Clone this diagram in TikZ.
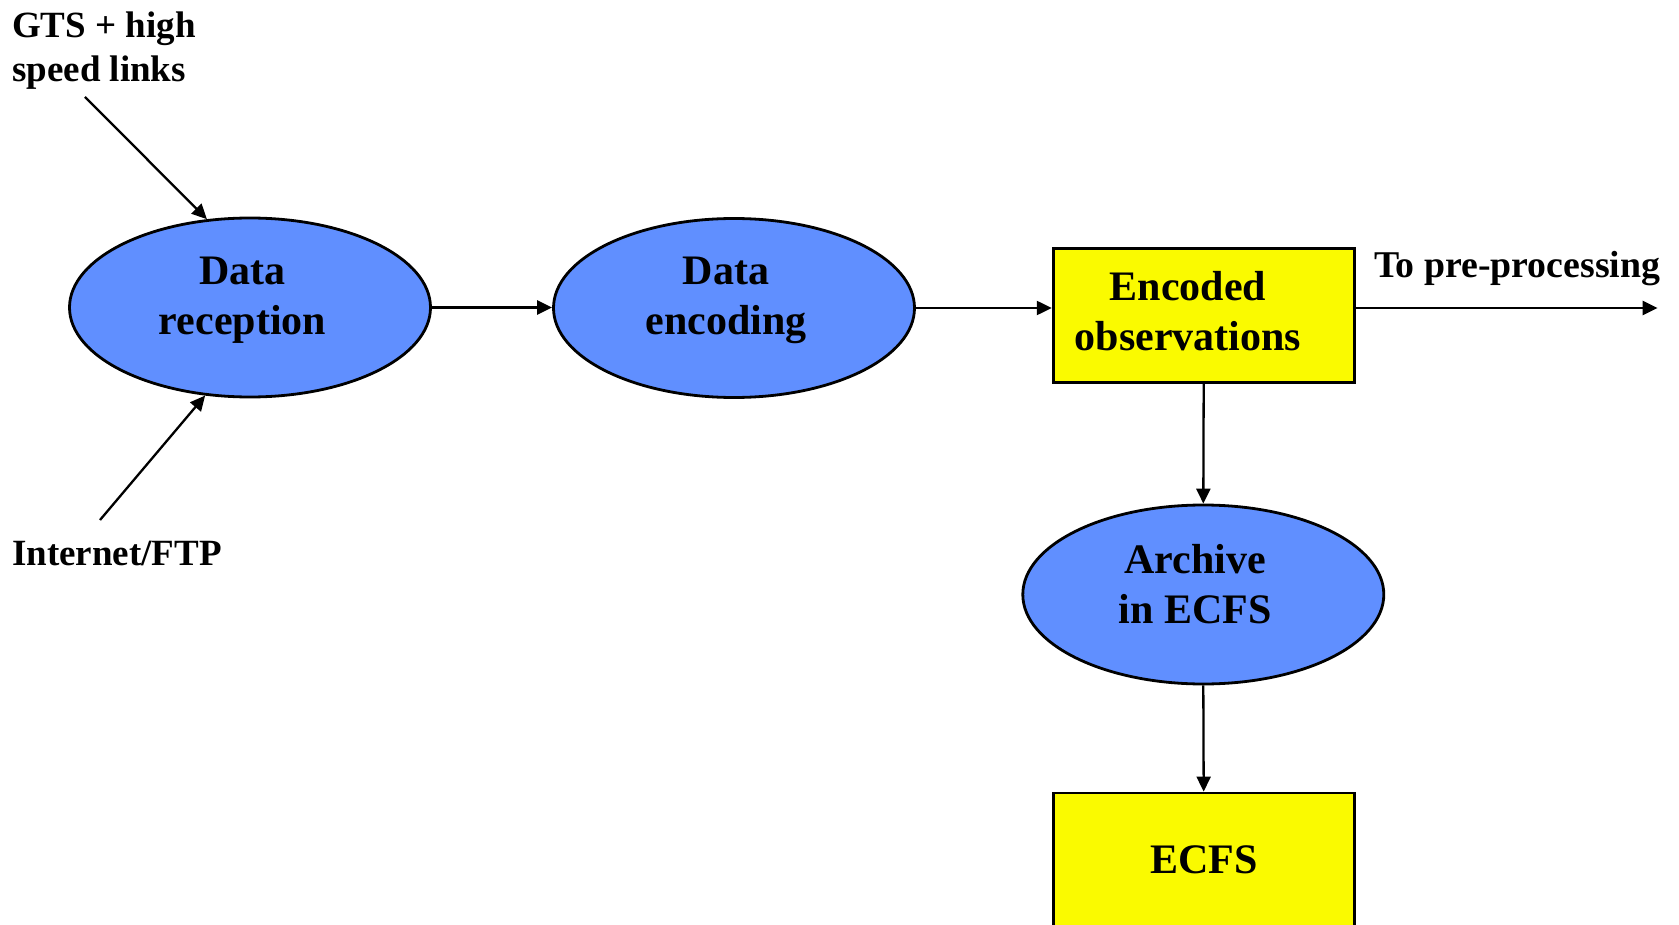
\documentclass[tikz,border=0pt]{standalone}
\usepackage{fontspec}
\setmainfont{Liberation Serif}
\usetikzlibrary{arrows.meta,shapes.geometric}
\definecolor{ovalblue}{RGB}{96,143,255}
\definecolor{boxyellow}{RGB}{250,250,0}
\begin{document}
\begin{tikzpicture}[x=1pt,y=-1pt,
  oval/.style={ellipse,draw=black,line width=2.8pt,fill=ovalblue,minimum width=361pt,minimum height=179pt,inner sep=0pt},
  box/.style={rectangle,draw=black,line width=2.8pt,fill=boxyellow,minimum width=301pt,minimum height=134pt,inner sep=0pt,font=\fontsize{42}{50}\selectfont\bfseries},
  bigtext/.style={inner sep=0pt,align=center,anchor=north,font=\fontsize{42}{50}\selectfont\bfseries},
  smalltext/.style={inner sep=0pt,font=\fontsize{37}{44}\selectfont\bfseries},
  flow/.style={line width=2.3pt,-{Triangle[length=15pt,width=14pt]}}]
\useasboundingbox (0,0) rectangle (1679,925);
\clip (0,0) rectangle (1679,925);
\fill[white] (0,0) rectangle (1679,925);

\node[oval] (rec) at (250,307.5) {};
\node[bigtext] (rect) at (242.5,257) {Data\\reception};
\node[oval] (enc) at (734,308) {};
\node[bigtext] (enct) at (726,257) {Data\\encoding};
\node[box] (obs) at (1203.7,315.4) {};
\node[bigtext] (obst) at (1188,271.5) {Encoded\\observations};
\node[oval] (arc) at (1203.3,594.5) {};
\node[bigtext] (arct) at (1195.3,544) {Archive\\in ECFS};
\node[box] (ecfs) at (1203.7,860) {ECFS};

\node[smalltext,align=left,anchor=north west] (gts) at (12,11.5) {GTS + high\\speed links};
\node[smalltext,anchor=base west] (inet) at (12,565) {Internet/FTP};
\node[smalltext,anchor=base west,font=\fontsize{37.8}{44}\selectfont\bfseries] (topre) at (1374,278) {To pre-processing};

\coordinate (gtsend) at (85,97);
\coordinate (inetend) at (100,520);
\coordinate (out) at (1657.6,308);

\draw[flow] (gtsend) -- (rec.116.7);
\draw[flow] (inetend) -- (rec.243.3);
\draw[flow] (rec.east) -- (rec.east -| enc.west);
\draw[flow] (enc.east) -- (enc.east -| obs.west);
\draw[flow] (enc.east -| obs.east) -- (out);
\draw[flow] (obs.south) -- (arc.north);
\draw[flow] (arc.south) -- (ecfs.north);
\end{tikzpicture}
\end{document}
